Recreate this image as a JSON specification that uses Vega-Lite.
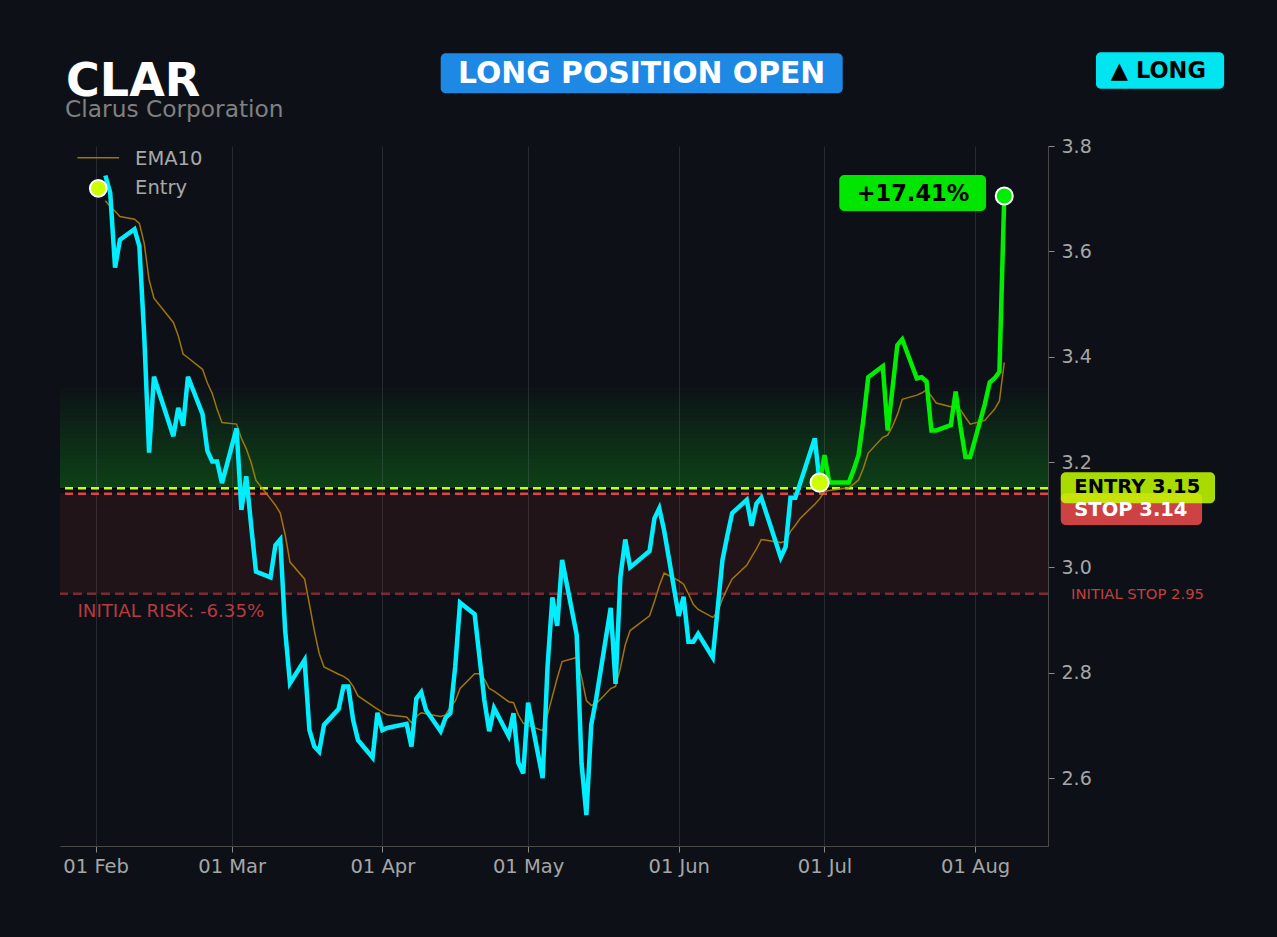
{
  "$schema": "https://vega.github.io/schema/vega-lite/v6.json",
  "width": 988,
  "height": 700,
  "autosize": {"type": "none"},
  "padding": {"left": 60, "top": 146, "right": 229, "bottom": 91},
  "background": "#0d1117",
  "datasets": {
    "px": [
      {"date": "2026-02-03", "close": 3.744, "ema10": 3.696},
      {"date": "2026-02-04", "close": 3.711, "ema10": 3.685},
      {"date": "2026-02-05", "close": 3.569, "ema10": 3.676},
      {"date": "2026-02-06", "close": 3.622, "ema10": 3.666},
      {"date": "2026-02-09", "close": 3.642, "ema10": 3.661},
      {"date": "2026-02-10", "close": 3.610, "ema10": 3.653},
      {"date": "2026-02-11", "close": 3.440, "ema10": 3.615},
      {"date": "2026-02-12", "close": 3.218, "ema10": 3.546},
      {"date": "2026-02-13", "close": 3.362, "ema10": 3.511},
      {"date": "2026-02-17", "close": 3.249, "ema10": 3.465},
      {"date": "2026-02-18", "close": 3.303, "ema10": 3.440},
      {"date": "2026-02-19", "close": 3.269, "ema10": 3.405},
      {"date": "2026-02-20", "close": 3.362, "ema10": 3.398},
      {"date": "2026-02-23", "close": 3.291, "ema10": 3.376},
      {"date": "2026-02-24", "close": 3.221, "ema10": 3.350},
      {"date": "2026-02-25", "close": 3.201, "ema10": 3.330},
      {"date": "2026-02-26", "close": 3.201, "ema10": 3.300},
      {"date": "2026-02-27", "close": 3.160, "ema10": 3.275},
      {"date": "2026-03-02", "close": 3.264, "ema10": 3.272},
      {"date": "2026-03-03", "close": 3.109, "ema10": 3.245},
      {"date": "2026-03-04", "close": 3.173, "ema10": 3.225},
      {"date": "2026-03-05", "close": 3.080, "ema10": 3.199},
      {"date": "2026-03-06", "close": 2.992, "ema10": 3.165},
      {"date": "2026-03-09", "close": 2.981, "ema10": 3.130},
      {"date": "2026-03-10", "close": 3.042, "ema10": 3.118},
      {"date": "2026-03-11", "close": 3.053, "ema10": 3.103},
      {"date": "2026-03-12", "close": 2.881, "ema10": 3.062},
      {"date": "2026-03-13", "close": 2.780, "ema10": 3.010},
      {"date": "2026-03-16", "close": 2.824, "ema10": 2.978},
      {"date": "2026-03-17", "close": 2.691, "ema10": 2.930},
      {"date": "2026-03-18", "close": 2.660, "ema10": 2.880},
      {"date": "2026-03-19", "close": 2.650, "ema10": 2.837},
      {"date": "2026-03-20", "close": 2.701, "ema10": 2.811},
      {"date": "2026-03-23", "close": 2.731, "ema10": 2.797},
      {"date": "2026-03-24", "close": 2.774, "ema10": 2.793},
      {"date": "2026-03-25", "close": 2.774, "ema10": 2.787},
      {"date": "2026-03-26", "close": 2.710, "ema10": 2.774},
      {"date": "2026-03-27", "close": 2.672, "ema10": 2.756},
      {"date": "2026-03-30", "close": 2.639, "ema10": 2.737},
      {"date": "2026-03-31", "close": 2.724, "ema10": 2.731},
      {"date": "2026-04-01", "close": 2.691, "ema10": 2.725},
      {"date": "2026-04-02", "close": 2.695, "ema10": 2.720},
      {"date": "2026-04-06", "close": 2.703, "ema10": 2.716},
      {"date": "2026-04-07", "close": 2.660, "ema10": 2.705},
      {"date": "2026-04-08", "close": 2.751, "ema10": 2.717},
      {"date": "2026-04-09", "close": 2.763, "ema10": 2.724},
      {"date": "2026-04-10", "close": 2.729, "ema10": 2.722},
      {"date": "2026-04-13", "close": 2.689, "ema10": 2.717},
      {"date": "2026-04-14", "close": 2.714, "ema10": 2.720},
      {"date": "2026-04-15", "close": 2.723, "ema10": 2.735},
      {"date": "2026-04-16", "close": 2.811, "ema10": 2.746},
      {"date": "2026-04-17", "close": 2.933, "ema10": 2.770},
      {"date": "2026-04-20", "close": 2.911, "ema10": 2.798},
      {"date": "2026-04-21", "close": 2.830, "ema10": 2.798},
      {"date": "2026-04-22", "close": 2.748, "ema10": 2.788},
      {"date": "2026-04-23", "close": 2.689, "ema10": 2.770},
      {"date": "2026-04-24", "close": 2.733, "ema10": 2.765},
      {"date": "2026-04-27", "close": 2.680, "ema10": 2.745},
      {"date": "2026-04-28", "close": 2.723, "ema10": 2.743},
      {"date": "2026-04-29", "close": 2.629, "ema10": 2.720},
      {"date": "2026-04-30", "close": 2.609, "ema10": 2.704},
      {"date": "2026-05-01", "close": 2.743, "ema10": 2.700},
      {"date": "2026-05-04", "close": 2.600, "ema10": 2.690},
      {"date": "2026-05-05", "close": 2.811, "ema10": 2.720},
      {"date": "2026-05-06", "close": 2.943, "ema10": 2.755},
      {"date": "2026-05-07", "close": 2.889, "ema10": 2.790},
      {"date": "2026-05-08", "close": 3.014, "ema10": 2.821},
      {"date": "2026-05-11", "close": 2.872, "ema10": 2.829},
      {"date": "2026-05-12", "close": 2.628, "ema10": 2.792},
      {"date": "2026-05-13", "close": 2.530, "ema10": 2.747},
      {"date": "2026-05-14", "close": 2.701, "ema10": 2.738},
      {"date": "2026-05-15", "close": 2.750, "ema10": 2.741},
      {"date": "2026-05-18", "close": 2.923, "ema10": 2.770},
      {"date": "2026-05-19", "close": 2.779, "ema10": 2.774},
      {"date": "2026-05-20", "close": 2.982, "ema10": 2.809},
      {"date": "2026-05-21", "close": 3.053, "ema10": 2.853},
      {"date": "2026-05-22", "close": 3.000, "ema10": 2.880},
      {"date": "2026-05-26", "close": 3.031, "ema10": 2.908},
      {"date": "2026-05-27", "close": 3.093, "ema10": 2.935},
      {"date": "2026-05-28", "close": 3.112, "ema10": 2.965},
      {"date": "2026-05-29", "close": 3.070, "ema10": 2.989},
      {"date": "2026-06-01", "close": 2.908, "ema10": 2.975},
      {"date": "2026-06-02", "close": 2.944, "ema10": 2.968},
      {"date": "2026-06-03", "close": 2.859, "ema10": 2.950},
      {"date": "2026-06-04", "close": 2.859, "ema10": 2.930},
      {"date": "2026-06-05", "close": 2.874, "ema10": 2.920},
      {"date": "2026-06-08", "close": 2.829, "ema10": 2.905},
      {"date": "2026-06-09", "close": 2.920, "ema10": 2.915},
      {"date": "2026-06-10", "close": 3.014, "ema10": 2.940},
      {"date": "2026-06-11", "close": 3.060, "ema10": 2.960},
      {"date": "2026-06-12", "close": 3.103, "ema10": 2.978},
      {"date": "2026-06-15", "close": 3.128, "ema10": 3.004},
      {"date": "2026-06-16", "close": 3.079, "ema10": 3.020},
      {"date": "2026-06-17", "close": 3.121, "ema10": 3.035},
      {"date": "2026-06-18", "close": 3.132, "ema10": 3.053},
      {"date": "2026-06-22", "close": 3.019, "ema10": 3.047},
      {"date": "2026-06-23", "close": 3.039, "ema10": 3.050},
      {"date": "2026-06-24", "close": 3.132, "ema10": 3.068},
      {"date": "2026-06-25", "close": 3.132, "ema10": 3.080},
      {"date": "2026-06-26", "close": 3.160, "ema10": 3.093},
      {"date": "2026-06-29", "close": 3.245, "ema10": 3.120},
      {"date": "2026-06-30", "close": 3.161, "ema10": 3.130},
      {"date": "2026-07-01", "close": 3.213, "ema10": 3.144},
      {"date": "2026-07-02", "close": 3.161, "ema10": 3.146},
      {"date": "2026-07-06", "close": 3.161, "ema10": 3.151},
      {"date": "2026-07-07", "close": 3.185, "ema10": 3.158},
      {"date": "2026-07-08", "close": 3.213, "ema10": 3.166},
      {"date": "2026-07-09", "close": 3.280, "ema10": 3.188},
      {"date": "2026-07-10", "close": 3.361, "ema10": 3.217},
      {"date": "2026-07-13", "close": 3.382, "ema10": 3.247},
      {"date": "2026-07-14", "close": 3.260, "ema10": 3.251},
      {"date": "2026-07-15", "close": 3.340, "ema10": 3.268},
      {"date": "2026-07-16", "close": 3.422, "ema10": 3.290},
      {"date": "2026-07-17", "close": 3.433, "ema10": 3.319},
      {"date": "2026-07-20", "close": 3.359, "ema10": 3.327},
      {"date": "2026-07-21", "close": 3.361, "ema10": 3.331},
      {"date": "2026-07-22", "close": 3.353, "ema10": 3.337},
      {"date": "2026-07-23", "close": 3.260, "ema10": 3.325},
      {"date": "2026-07-24", "close": 3.260, "ema10": 3.312},
      {"date": "2026-07-27", "close": 3.270, "ema10": 3.305},
      {"date": "2026-07-28", "close": 3.334, "ema10": 3.302},
      {"date": "2026-07-29", "close": 3.267, "ema10": 3.299},
      {"date": "2026-07-30", "close": 3.210, "ema10": 3.285},
      {"date": "2026-07-31", "close": 3.210, "ema10": 3.272},
      {"date": "2026-08-03", "close": 3.310, "ema10": 3.279},
      {"date": "2026-08-04", "close": 3.351, "ema10": 3.290},
      {"date": "2026-08-05", "close": 3.359, "ema10": 3.300},
      {"date": "2026-08-06", "close": 3.371, "ema10": 3.316},
      {"date": "2026-08-07", "close": 3.705, "ema10": 3.389}
    ],
    "glow": [
      {"lo": 3.15, "hi": 3.158}, {"lo": 3.15, "hi": 3.166}, {"lo": 3.15, "hi": 3.174},
      {"lo": 3.15, "hi": 3.182}, {"lo": 3.15, "hi": 3.190}, {"lo": 3.15, "hi": 3.198},
      {"lo": 3.15, "hi": 3.206}, {"lo": 3.15, "hi": 3.214}, {"lo": 3.15, "hi": 3.222},
      {"lo": 3.15, "hi": 3.230}, {"lo": 3.15, "hi": 3.238}, {"lo": 3.15, "hi": 3.246},
      {"lo": 3.15, "hi": 3.254}, {"lo": 3.15, "hi": 3.262}, {"lo": 3.15, "hi": 3.270},
      {"lo": 3.15, "hi": 3.278}, {"lo": 3.15, "hi": 3.286}, {"lo": 3.15, "hi": 3.294},
      {"lo": 3.15, "hi": 3.302}, {"lo": 3.15, "hi": 3.310}, {"lo": 3.15, "hi": 3.318},
      {"lo": 3.15, "hi": 3.326}, {"lo": 3.15, "hi": 3.334}, {"lo": 3.15, "hi": 3.342}
    ],
    "one": [{}]
  },
  "layer": [
    {
      "data": {"name": "one"},
      "mark": {"type": "rect", "fill": "#dc3232", "opacity": 0.1},
      "encoding": {
        "y": {"datum": 2.95, "type": "quantitative", "scale": {"domain": [2.471, 3.8], "nice": false, "zero": false}},
        "y2": {"datum": 3.14}
      }
    },
    {
      "data": {"name": "glow"},
      "mark": {"type": "rect", "fill": "#3cc83c", "opacity": 0.017},
      "encoding": {
        "y": {"field": "lo", "type": "quantitative"},
        "y2": {"field": "hi"}
      }
    },
    {
      "data": {"name": "one"},
      "mark": {"type": "rule", "stroke": "#7d2b30", "strokeWidth": 2.5, "strokeDash": [9, 5]},
      "encoding": {"y": {"datum": 2.95, "type": "quantitative"}}
    },
    {
      "data": {"name": "one"},
      "mark": {"type": "rule", "stroke": "#e04444", "strokeWidth": 2.5, "strokeDash": [8, 5]},
      "encoding": {"y": {"datum": 3.14, "type": "quantitative"}}
    },
    {
      "data": {"name": "one"},
      "mark": {"type": "rule", "stroke": "#ccff00", "strokeWidth": 2.5, "strokeDash": [8, 5]},
      "encoding": {"y": {"datum": 3.15, "type": "quantitative"}}
    },
    {
      "data": {"name": "px"},
      "mark": {"type": "line", "stroke": "#b8860b", "strokeWidth": 1.5, "opacity": 0.85},
      "encoding": {
        "x": {
          "field": "date", "type": "temporal",
          "scale": {"type": "utc", "domain": [
            {"year": 2026, "month": 1, "date": 24, "hours": 16, "utc": true},
            {"year": 2026, "month": 8, "date": 16, "utc": true}
          ]},
          "axis": {
            "values": [
              {"year": 2026, "month": 2, "date": 1, "utc": true},
              {"year": 2026, "month": 3, "date": 1, "utc": true},
              {"year": 2026, "month": 4, "date": 1, "utc": true},
              {"year": 2026, "month": 5, "date": 1, "utc": true},
              {"year": 2026, "month": 6, "date": 1, "utc": true},
              {"year": 2026, "month": 7, "date": 1, "utc": true},
              {"year": 2026, "month": 8, "date": 1, "utc": true}
            ],
            "format": "%d %b", "title": null, "labelFontSize": 19.5
          }
        },
        "y": {
          "field": "ema10", "type": "quantitative",
          "scale": {"domain": [2.471, 3.8], "nice": false, "zero": false},
          "axis": {"orient": "right", "values": [2.6, 2.8, 3.0, 3.2, 3.4, 3.6, 3.8], "format": ".1f", "title": null, "labelFontSize": 19}
        }
      }
    },
    {
      "data": {"name": "px"},
      "transform": [{"filter": "time(datum.date) <= utc(2026, 5, 30)"}],
      "mark": {"type": "line", "stroke": "#00eeff", "strokeWidth": 4.5, "strokeJoin": "miter"},
      "encoding": {
        "x": {"field": "date", "type": "temporal"},
        "y": {"field": "close", "type": "quantitative"}
      }
    },
    {
      "data": {"name": "px"},
      "transform": [{"filter": "time(datum.date) >= utc(2026, 5, 30)"}],
      "mark": {"type": "line", "stroke": "#00ee00", "strokeWidth": 4.5, "strokeJoin": "miter"},
      "encoding": {
        "x": {"field": "date", "type": "temporal"},
        "y": {"field": "close", "type": "quantitative"}
      }
    },
    {
      "data": {"name": "px"},
      "transform": [{"filter": "time(datum.date) == utc(2026, 5, 30)"}],
      "mark": {"type": "circle", "fill": "#ccff00", "opacity": 1, "stroke": "white", "strokeWidth": 2, "size": 330},
      "encoding": {
        "x": {"field": "date", "type": "temporal"},
        "y": {"field": "close", "type": "quantitative"}
      }
    },
    {
      "data": {"name": "px"},
      "transform": [{"filter": "time(datum.date) == utc(2026, 7, 7)"}],
      "mark": {"type": "circle", "fill": "#00ee00", "opacity": 1, "stroke": "white", "strokeWidth": 2, "size": 290},
      "encoding": {
        "x": {"field": "date", "type": "temporal"},
        "y": {"field": "close", "type": "quantitative"}
      }
    },
    {
      "data": {"name": "one"},
      "mark": {"type": "rule", "stroke": "#b8860b", "strokeWidth": 1.5, "opacity": 0.85},
      "encoding": {
        "x": {"datum": {"year": 2026, "month": 1, "date": 28, "hours": 6, "utc": true}, "type": "temporal"},
        "x2": {"datum": {"year": 2026, "month": 2, "date": 5, "hours": 20, "utc": true}},
        "y": {"datum": 3.7778, "type": "quantitative"}
      }
    },
    {
      "data": {"name": "one"},
      "mark": {"type": "circle", "fill": "#ccff00", "opacity": 1, "stroke": "white", "strokeWidth": 2, "size": 280},
      "encoding": {
        "x": {"datum": {"year": 2026, "month": 2, "date": 1, "hours": 13, "utc": true}, "type": "temporal"},
        "y": {"datum": 3.7197, "type": "quantitative"}
      }
    },
    {
      "data": {"name": "one"},
      "mark": {"type": "text", "align": "left", "baseline": "alphabetic", "fontSize": 19.5, "color": "#a8a8a8"},
      "encoding": {
        "x": {"datum": {"year": 2026, "month": 2, "date": 9, "hours": 3, "utc": true}, "type": "temporal"},
        "y": {"datum": 3.7639, "type": "quantitative"},
        "text": {"value": "EMA10"}
      }
    },
    {
      "data": {"name": "one"},
      "mark": {"type": "text", "align": "left", "baseline": "alphabetic", "fontSize": 19.5, "color": "#a8a8a8"},
      "encoding": {
        "x": {"datum": {"year": 2026, "month": 2, "date": 9, "hours": 3, "utc": true}, "type": "temporal"},
        "y": {"datum": 3.7083, "type": "quantitative"},
        "text": {"value": "Entry"}
      }
    },
    {
      "data": {"name": "one"},
      "mark": {"type": "text", "align": "left", "baseline": "alphabetic", "fontSize": 46, "fontWeight": "bold", "color": "#ffffff"},
      "encoding": {
        "x": {"datum": {"year": 2026, "month": 1, "date": 25, "hours": 22, "utc": true}, "type": "temporal"},
        "y": {"datum": 3.8957, "type": "quantitative"},
        "text": {"value": "CLAR"}
      }
    },
    {
      "data": {"name": "one"},
      "mark": {"type": "text", "align": "left", "baseline": "alphabetic", "fontSize": 23.3, "color": "#808080"},
      "encoding": {
        "x": {"datum": {"year": 2026, "month": 1, "date": 25, "hours": 17, "utc": true}, "type": "temporal"},
        "y": {"datum": 3.855, "type": "quantitative"},
        "text": {"value": "Clarus Corporation"}
      }
    },
    {
      "data": {"name": "one"},
      "mark": {"type": "rect", "fill": "#1e88e5", "cornerRadius": 5},
      "encoding": {
        "x": {"datum": {"year": 2026, "month": 4, "date": 13, "minutes": 30, "utc": true}, "type": "temporal"},
        "x2": {"datum": {"year": 2026, "month": 7, "date": 4, "hours": 18, "utc": true}},
        "y": {"datum": 3.976, "type": "quantitative"},
        "y2": {"datum": 3.900}
      }
    },
    {
      "data": {"name": "one"},
      "mark": {"type": "text", "align": "center", "baseline": "alphabetic", "fontSize": 29.8, "fontWeight": "bold", "color": "#ffffff"},
      "encoding": {
        "x": {"datum": {"year": 2026, "month": 5, "date": 24, "hours": 9, "utc": true}, "type": "temporal"},
        "y": {"datum": 3.9202, "type": "quantitative"},
        "text": {"value": "LONG POSITION OPEN"}
      }
    },
    {
      "data": {"name": "one"},
      "mark": {"type": "rect", "fill": "#00e5f0", "cornerRadius": 5},
      "encoding": {
        "x": {"datum": {"year": 2026, "month": 8, "date": 25, "hours": 21, "utc": true}, "type": "temporal"},
        "x2": {"datum": {"year": 2026, "month": 9, "date": 21, "hours": 6, "utc": true}},
        "y": {"datum": 3.9779, "type": "quantitative"},
        "y2": {"datum": 3.9088}
      }
    },
    {
      "data": {"name": "one"},
      "mark": {"type": "text", "align": "center", "baseline": "alphabetic", "fontSize": 22.5, "fontWeight": "bold", "color": "#000000"},
      "encoding": {
        "x": {"datum": {"year": 2026, "month": 9, "date": 7, "hours": 17, "utc": true}, "type": "temporal"},
        "y": {"datum": 3.9285, "type": "quantitative"},
        "text": {"value": "▲ LONG"}
      }
    },
    {
      "data": {"name": "one"},
      "mark": {"type": "rect", "fill": "#00e600", "cornerRadius": 5},
      "encoding": {
        "x": {"datum": {"year": 2026, "month": 7, "date": 4, "hours": 1, "utc": true}, "type": "temporal"},
        "x2": {"datum": {"year": 2026, "month": 8, "date": 3, "hours": 6, "utc": true}},
        "y": {"datum": 3.7449, "type": "quantitative"},
        "y2": {"datum": 3.6766}
      }
    },
    {
      "data": {"name": "one"},
      "mark": {"type": "text", "align": "center", "baseline": "alphabetic", "fontSize": 22.5, "fontWeight": "bold", "color": "#000000"},
      "encoding": {
        "x": {"datum": {"year": 2026, "month": 7, "date": 19, "hours": 5, "utc": true}, "type": "temporal"},
        "y": {"datum": 3.6956, "type": "quantitative"},
        "text": {"value": "+17.41%"}
      }
    },
    {
      "data": {"name": "one"},
      "mark": {"type": "rect", "fill": "#f04c4c", "opacity": 0.85, "cornerRadius": 5},
      "encoding": {
        "x": {"datum": {"year": 2026, "month": 8, "date": 18, "hours": 15, "utc": true}, "type": "temporal"},
        "x2": {"datum": {"year": 2026, "month": 9, "date": 16, "hours": 17, "utc": true}},
        "y": {"datum": 3.1406, "type": "quantitative"},
        "y2": {"datum": 3.0804}
      }
    },
    {
      "data": {"name": "one"},
      "mark": {"type": "rect", "fill": "#c6ff00", "opacity": 0.85, "cornerRadius": 5},
      "encoding": {
        "x": {"datum": {"year": 2026, "month": 8, "date": 18, "hours": 15, "utc": true}, "type": "temporal"},
        "x2": {"datum": {"year": 2026, "month": 9, "date": 19, "hours": 9, "utc": true}},
        "y": {"datum": 3.1805, "type": "quantitative"},
        "y2": {"datum": 3.1216}
      }
    },
    {
      "data": {"name": "one"},
      "mark": {"type": "text", "align": "left", "baseline": "alphabetic", "fontSize": 19.5, "fontWeight": "bold", "color": "#000000"},
      "encoding": {
        "x": {"datum": {"year": 2026, "month": 8, "date": 21, "hours": 10, "utc": true}, "type": "temporal"},
        "y": {"datum": 3.1406, "type": "quantitative"},
        "text": {"value": "ENTRY 3.15"}
      }
    },
    {
      "data": {"name": "one"},
      "mark": {"type": "text", "align": "left", "baseline": "alphabetic", "fontSize": 19.5, "fontWeight": "bold", "color": "#ffffff"},
      "encoding": {
        "x": {"datum": {"year": 2026, "month": 8, "date": 21, "hours": 10, "utc": true}, "type": "temporal"},
        "y": {"datum": 3.0975, "type": "quantitative"},
        "text": {"value": "STOP 3.14"}
      }
    },
    {
      "data": {"name": "one"},
      "mark": {"type": "text", "align": "left", "baseline": "alphabetic", "fontSize": 14.8, "color": "#c04040"},
      "encoding": {
        "x": {"datum": {"year": 2026, "month": 8, "date": 20, "hours": 18, "utc": true}, "type": "temporal"},
        "y": {"datum": 2.9399, "type": "quantitative"},
        "text": {"value": "INITIAL STOP 2.95"}
      }
    },
    {
      "data": {"name": "one"},
      "mark": {"type": "text", "align": "left", "baseline": "alphabetic", "fontSize": 18.2, "color": "#b83a3e"},
      "encoding": {
        "x": {"datum": {"year": 2026, "month": 1, "date": 28, "hours": 6, "utc": true}, "type": "temporal"},
        "y": {"datum": 2.9052, "type": "quantitative"},
        "text": {"value": "INITIAL RISK: -6.35%"}
      }
    }
  ],
  "config": {
    "font": "DejaVu Sans",
    "view": {"stroke": null},
    "axis": {
      "labelFontSize": 18,
      "labelColor": "#a6a6a6",
      "tickColor": "#8a8a8a",
      "tickSize": 6,
      "domainColor": "#4a4a4a",
      "gridColor": "#262a31",
      "gridWidth": 1,
      "labelFont": "DejaVu Sans"
    },
    "axisX": {"labelPadding": 5},
    "axisY": {"labelPadding": 7}
  }
}
